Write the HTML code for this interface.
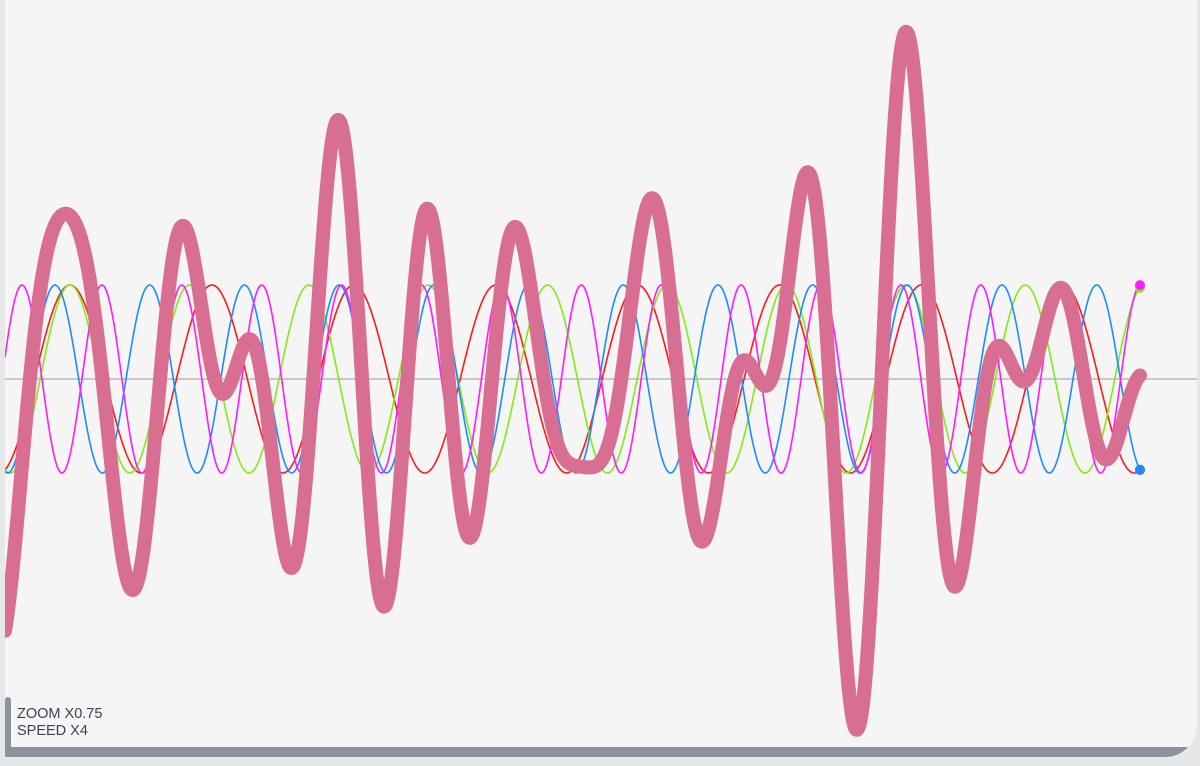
<!DOCTYPE html>
<html><head><meta charset="utf-8"><style>
html,body{margin:0;padding:0;width:1200px;height:766px;overflow:hidden;background:#e6e7e9;font-family:"Liberation Sans",sans-serif}
#card{position:absolute;left:5px;top:0;width:1192px;height:757px;background:#f5f5f5;border-bottom-right-radius:32px;overflow:hidden}
#bar{position:absolute;left:0;top:747px;width:1192px;height:10px;background:#8a939e}
#vbar{position:absolute;left:0;top:697px;width:6px;height:60px;background:#8a939e;border-top-left-radius:3px;border-top-right-radius:3px}
#info{position:absolute;left:12px;top:706px;font-size:14.5px;line-height:17px;color:#3a4252}
svg{position:absolute;left:0;top:0}
</style></head><body>
<div id="card">
<svg id="chart" width="1200" height="766" style="left:-5px"></svg>
<div id="info">ZOOM X0.75<br>SPEED X4</div>
<div id="vbar"></div>
<div id="bar"></div>
</div>
<script>
const waveNames=["red","green","blue","magenta"];
const waveColors=["#ff1a1a","#80ee10","#1a8cff","#ff1aff"];
const wavePeriods=[141.9,119.4,94.7,79.9];
const wavePeakX=[70,70,55,22];
const waveAmp=[1,1,1,1];
const X0=5,X1=1140,CY=379,A=94;
const svg=document.getElementById('chart');
const NS='http://www.w3.org/2000/svg';
function yScale(v){return CY-v*A;}
function waveVal(i,x){return waveAmp[i]*Math.cos(2*Math.PI*(x-wavePeakX[i])/wavePeriods[i]);}
const axis=document.createElementNS(NS,'line');


axis.setAttribute('x1',5);axis.setAttribute('x2',1197);axis.setAttribute('y1',CY);axis.setAttribute('y2',CY);
axis.setAttribute('stroke','#c8c8c8');axis.setAttribute('stroke-width','2');
svg.appendChild(axis);
for(let i=0;i<waveNames.length;i++){
  let d='';
  for(let x=X0;x<=X1;x+=1){d+=(x===X0?'M':'L')+x+','+yScale(waveVal(i,x)).toFixed(2);}
  const p=document.createElementNS(NS,'path');
  
  
  p.setAttribute('d',d);p.setAttribute('fill','none');p.setAttribute('stroke',waveColors[i]);p.setAttribute('stroke-width','1.6');
  svg.appendChild(p);
}
let ds='';
for(let x=X0;x<=X1;x+=1){let s=0;for(let i=0;i<waveNames.length;i++)s+=waveVal(i,x);ds+=(x===X0?'M':'L')+x+','+yScale(s).toFixed(2);}
const sp=document.createElementNS(NS,'path');


sp.setAttribute('d',ds);sp.setAttribute('fill','none');sp.setAttribute('stroke','#d86e91');sp.setAttribute('stroke-width','14');sp.setAttribute('stroke-linejoin','round');sp.setAttribute('stroke-linecap','round');
svg.appendChild(sp);
const order=[0,2,1,3];
for(const i of order){
  const c=document.createElementNS(NS,'circle');
  
  
  c.setAttribute('cx',X1);c.setAttribute('cy',yScale(waveVal(i,X1)));c.setAttribute('r','5');c.setAttribute('fill',waveColors[i]);
  svg.appendChild(c);
}
</script>
</body></html>
